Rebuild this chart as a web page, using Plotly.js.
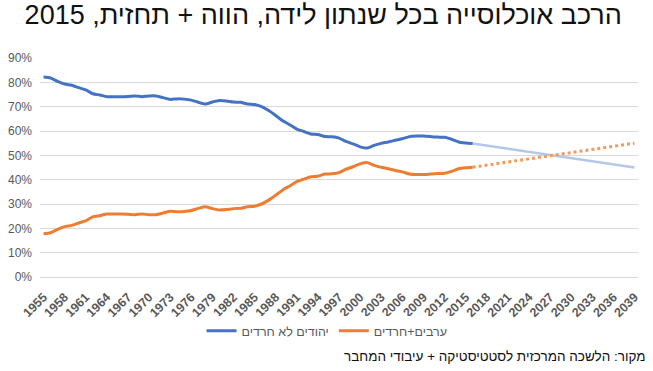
<!DOCTYPE html>
<html>
<head>
<meta charset="utf-8">
<script src="https://cdn.plot.ly/plotly-3.0.1.min.js"></script>
<style>html,body{margin:0;padding:0;background:#fff;}#chart{width:653px;height:371px;}</style>
</head>
<body>
<div id="chart"></div>
<script>
// Years of birth (actual data)
const years = [1955,1956,1957,1958,1959,1960,1961,1962,1963,1964,1965,1966,1967,1968,1969,1970,1971,1972,1973,1974,1975,1976,1977,1978,1979,1980,1981,1982,1983,1984,1985,1986,1987,1988,1989,1990,1991,1992,1993,1994,1995,1996,1997,1998,1999,2000,2001,2002,2003,2004,2005,2006,2007,2008,2009,2010,2011,2012,2013,2014,2015,2016];
// Non-Haredi Jews (share)
const jewsNonHaredi = [0.822,0.818,0.804,0.793,0.788,0.778,0.769,0.753,0.748,0.741,0.741,0.741,0.742,0.744,0.741,0.744,0.744,0.737,0.730,0.732,0.731,0.727,0.718,0.711,0.719,0.725,0.723,0.719,0.718,0.711,0.709,0.700,0.684,0.664,0.642,0.626,0.608,0.598,0.588,0.586,0.577,0.576,0.571,0.557,0.547,0.535,0.530,0.541,0.549,0.555,0.562,0.568,0.577,0.579,0.579,0.577,0.575,0.574,0.566,0.555,0.551,0.549];
// Arabs + Haredim (share)
const arabsHaredim = [0.178,0.182,0.196,0.207,0.212,0.222,0.231,0.247,0.252,0.259,0.259,0.259,0.258,0.256,0.259,0.256,0.256,0.263,0.270,0.268,0.269,0.273,0.282,0.289,0.281,0.275,0.277,0.281,0.282,0.289,0.291,0.300,0.316,0.336,0.358,0.374,0.392,0.402,0.412,0.414,0.423,0.424,0.429,0.443,0.453,0.465,0.470,0.459,0.451,0.445,0.438,0.432,0.423,0.421,0.421,0.423,0.425,0.426,0.434,0.445,0.449,0.451];
// Forecast (endpoints)
const forecastYears = [2016, 2039];
const jewsForecast = [0.549, 0.450];
const arabsForecast = [0.451, 0.550];
// Tick labels
const tickYears = [1955,1958,1961,1964,1967,1970,1973,1976,1979,1982,1985,1988,1991,1994,1997,2000,2003,2006,2009,2012,2015,2018,2021,2024,2027,2030,2033,2036,2039];
const yTicks = [0,0.1,0.2,0.3,0.4,0.5,0.6,0.7,0.8,0.9];
const yTickText = ['0%','10%','20%','30%','40%','50%','60%','70%','80%','90%'];

const names = ['יהודים לא חרדים', 'ערבים+חרדים'];
const title = 'הרכב אוכלוסייה בכל שנתון לידה, הווה + תחזית, 2015';
const source = 'מקור: הלשכה המרכזית לסטטיסטיקה + עיבודי המחבר';

const traces = [
  {x: forecastYears, y: jewsForecast, mode: 'lines', line: {color: '#B4C7E7', width: 2.5}, showlegend: false, hoverinfo: 'skip'},
  {x: forecastYears, y: arabsForecast, mode: 'lines', line: {color: '#F19A5E', width: 3, dash: 'dot'}, showlegend: false, hoverinfo: 'skip'},
  {x: years, y: jewsNonHaredi, name: names[0], mode: 'lines', line: {color: '#4472C4', width: 3, shape: 'spline', smoothing: 0.6}},
  {x: years, y: arabsHaredim, name: names[1], mode: 'lines', line: {color: '#ED7D31', width: 3, shape: 'spline', smoothing: 0.6}}
];

const layout = {
  width: 653, height: 371,
  margin: {l: 40, r: 15, t: 58, b: 94},
  paper_bgcolor: '#fff', plot_bgcolor: '#fff',
  font: {family: 'Liberation Sans, Arial, sans-serif', color: '#595959', size: 12},
  title: {text: title, font: {family: 'Liberation Sans, Arial, sans-serif', size: 27, color: '#111'}, x: 0.495, xanchor: 'center', y: 0.962, yanchor: 'middle'},
  xaxis: {
    range: [1954.5, 2039.5], tickmode: 'array', tickvals: tickYears, ticktext: tickYears.map(String),
    tickangle: -45, showgrid: false, zeroline: false, showline: true, linecolor: '#D9D9D9', linewidth: 1,
    ticks: '', ticklabelstandoff: 7,
    tickfont: {size: 12.5, color: '#595959', family: 'Liberation Sans, Arial, sans-serif', weight: 'bold'}, fixedrange: true
  },
  yaxis: {
    range: [0, 0.9], tickmode: 'array', tickvals: yTicks, ticktext: yTickText,
    showgrid: true, gridcolor: '#D9D9D9', gridwidth: 1, zeroline: false, showline: false, ticks: '',
    ticklabelstandoff: 7,
    tickfont: {size: 12, color: '#595959'}, fixedrange: true
  },
  showlegend: true,
  legend: {orientation: 'h', x: 0.48, xanchor: 'center', y: -0.247, yanchor: 'middle', itemwidth: 30, font: {size: 12.5, color: '#595959'}, traceorder: 'normal'},
  annotations: [{
    text: source, xref: 'paper', yref: 'paper', x: 1.017, xanchor: 'right', y: -0.365, yanchor: 'middle',
    showarrow: false, font: {size: 13.5, color: '#111'}
  }]
};

Plotly.newPlot('chart', traces, layout, {displayModeBar: false, staticPlot: true});
</script>
</body>
</html>
